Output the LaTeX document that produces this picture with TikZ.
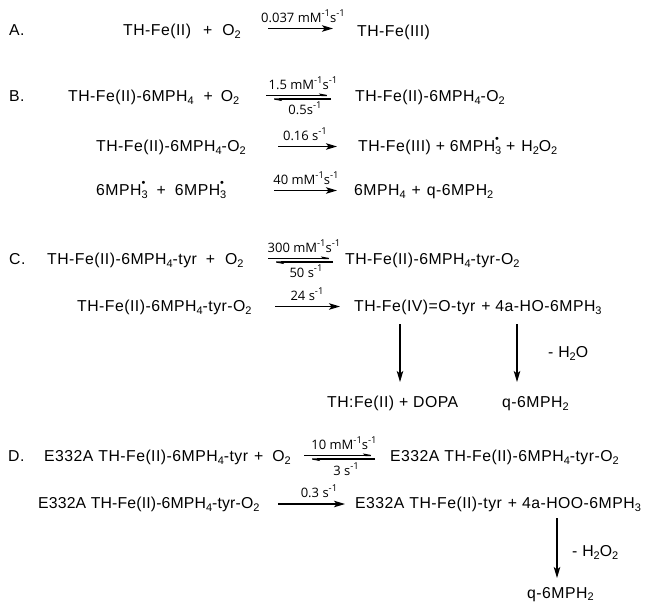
\documentclass[tikz,border=0pt]{standalone}
\usepackage{fontspec}
\setmainfont{Liberation Sans}[LetterSpace=3]
\newfontfamily\lblfont{Open Sans}
\usetikzlibrary{arrows.meta}
\newcommand\dn[1]{\raisebox{-0.35ex}{\fontsize{11}{11}\selectfont #1}}
\newcommand\up[1]{\raisebox{0.85ex}{\fontsize{9.5}{10}\selectfont #1}}
\newcommand\rad{\rlap{\raisebox{1.05ex}{\fontsize{11}{11}\selectfont •}}}
\tikzset{
  txt/.style={font=\fontsize{15.8}{18}\selectfont, inner sep=0pt, anchor=base west},
  lbl/.style={font=\lblfont\fontsize{13}{16}\selectfont, inner sep=0pt, anchor=base},
  arr/.style={-{Stealth[length=11pt,width=6.5pt,inset=2.5pt]}, line width=1.2pt},
  harp/.style={-{Stealth[length=11pt,width=4pt,inset=2pt,harpoon]}, line width=1.1pt},
}
\begin{document}
\begin{tikzpicture}[x=1pt,y=-1pt]
\useasboundingbox (0,0) rectangle (652,603);
% ---------- A
\node[txt] (lA) at (9,35.2) {A.};
\node[txt] (rA) at (123,35.2) {TH-Fe(II)\hspace{12pt}+\hspace{10pt}O\dn{2}};
\node[txt] (pA) at (357,36.5) {TH-Fe(III)};
\coordinate (aA1) at (268,28.5);
\coordinate (aA2) at (333,28.5);
\draw[arr] (aA1) -- (aA2);
\node[lbl] (kA) at (303,22) {0.037 mM\up{-1}s\up{-1}};
% ---------- B1
\node[txt] (lB) at (9,101.7) {B.};
\node[txt] (rB1) at (68,101.7) {TH-Fe(II)-6MPH\dn{4}\hspace{10pt}+\hspace{8pt}O\dn{2}};
\node[txt] (pB1) at (355,101.7) {TH-Fe(II)-6MPH\dn{4}-O\dn{2}};
\coordinate (aB1) at (266,95.5);
\coordinate (aB2) at (333,95.5);
\coordinate (aB3) at (331,99);
\coordinate (aB4) at (268,99);
\draw[harp] (aB1) -- (aB2);
\draw[harp] (aB3) -- (aB4);
\node[lbl] (kB1) at (303,89) {1.5 mM\up{-1}s\up{-1}};
\node[lbl] (kB1r) at (305,114) {0.5s\up{-1}};
% ---------- B2
\node[txt] (rB2) at (96,151.7) {TH-Fe(II)-6MPH\dn{4}-O\dn{2}};
\node[txt] (pB2) at (358,151.7) {TH-Fe(III) + 6MPH\rad\dn{3} +\hspace{6pt}H\dn{2}O\dn{2}};
\coordinate (aC1) at (278,146.5);
\coordinate (aC2) at (337,146.5);
\draw[arr] (aC1) -- (aC2);
\node[lbl] (kB2) at (305,140) {0.16 s\up{-1}};
% ---------- B3
\node[txt] (rB3) at (96,195.7) {6MPH\rad\dn{3}\hspace{9pt}+\hspace{9pt}6MPH\rad\dn{3}};
\node[txt] (pB3) at (354,195.7) {6MPH\dn{4}\hspace{6pt}+\hspace{6pt}q-6MPH\dn{2}};
\coordinate (aD1) at (274,190.5);
\coordinate (aD2) at (337,190.5);
\draw[arr] (aD1) -- (aD2);
\node[lbl] (kB3) at (306,184) {40 mM\up{-1}s\up{-1}};
% ---------- C1
\node[txt] (lC) at (9,264.7) {C.};
\node[txt] (rC1) at (47,264.7) {TH-Fe(II)-6MPH\dn{4}-tyr\hspace{9pt}+\hspace{10pt}O\dn{2}};
\node[txt] (pC1) at (345,264.7) {TH-Fe(II)-6MPH\dn{4}-tyr-O\dn{2}};
\coordinate (aE1) at (268,258.5);
\coordinate (aE2) at (335,258.5);
\coordinate (aE3) at (333,262);
\coordinate (aE4) at (270,262);
\draw[harp] (aE1) -- (aE2);
\draw[harp] (aE3) -- (aE4);
\node[lbl] (kC1) at (304,252) {300 mM\up{-1}s\up{-1}};
\node[lbl] (kC1r) at (306,277) {50 s\up{-1}};
% ---------- C2
\node[txt] (rC2) at (77,311.7) {TH-Fe(II)-6MPH\dn{4}-tyr-O\dn{2}};
\node[txt] (pC2) at (354,311.7) {TH-Fe(IV)=O-tyr\hspace{6pt}+ 4a-HO-6MPH\dn{3}};
\coordinate (aF1) at (275,306.5);
\coordinate (aF2) at (340,306.5);
\draw[arr] (aF1) -- (aF2);
\node[lbl] (kC2) at (307,300) {24 s\up{-1}};
\coordinate (dC1) at (400,324);
\coordinate (dC2) at (400,382);
\coordinate (dC3) at (517,324);
\coordinate (dC4) at (517,382);
\draw[arr] (dC1) -- (dC2);
\draw[arr] (dC3) -- (dC4);
\node[txt] (wC) at (548,357.7) {- H\dn{2}O};
\node[txt] (pC3) at (327,407.7) {TH:Fe(II) + DOPA};
\node[txt] (qC3) at (502,407.7) {q-6MPH\dn{2}};
% ---------- D1
\node[txt] (lD) at (8,461.7) {D.};
\node[txt] (rD1) at (44,461.7) {E332A TH-Fe(II)-6MPH\dn{4}-tyr\hspace{6pt}+\hspace{9pt}O\dn{2}};
\node[txt] (pD1) at (390,461.7) {E332A TH-Fe(II)-6MPH\dn{4}-tyr-O\dn{2}};
\coordinate (aG1) at (304,455.5);
\coordinate (aG2) at (377,455.5);
\coordinate (aG3) at (375,459);
\coordinate (aG4) at (306,459);
\draw[harp] (aG1) -- (aG2);
\draw[harp] (aG3) -- (aG4);
\node[lbl] (kD1) at (344,449) {10 mM\up{-1}s\up{-1}};
\node[lbl] (kD1r) at (346,475) {3 s\up{-1}};
% ---------- D2
\node[txt] (rD2) at (38,508.7) {\addfontfeature{LetterSpace=1}E332A TH-Fe(II)-6MPH\dn{4}-tyr-O\dn{2}};
\node[txt] (pD2) at (355,508.7) {E332A TH-Fe(II)-tyr\hspace{6pt}+ 4a-HOO-6MPH\dn{3}};
\coordinate (aH1) at (278,504);
\coordinate (aH2) at (345,504);
\draw[arr] (aH1) -- (aH2);
\node[lbl] (kD2) at (319,497.5) {0.3 s\up{-1}};
\coordinate (dD1) at (557,518);
\coordinate (dD2) at (557,578);
\draw[arr] (dD1) -- (dD2);
\node[txt] (wD) at (572,556.7) {- H\dn{2}O\dn{2}};
\node[txt] (qD) at (527,598) {q-6MPH\dn{2}};
\end{tikzpicture}
\end{document}
